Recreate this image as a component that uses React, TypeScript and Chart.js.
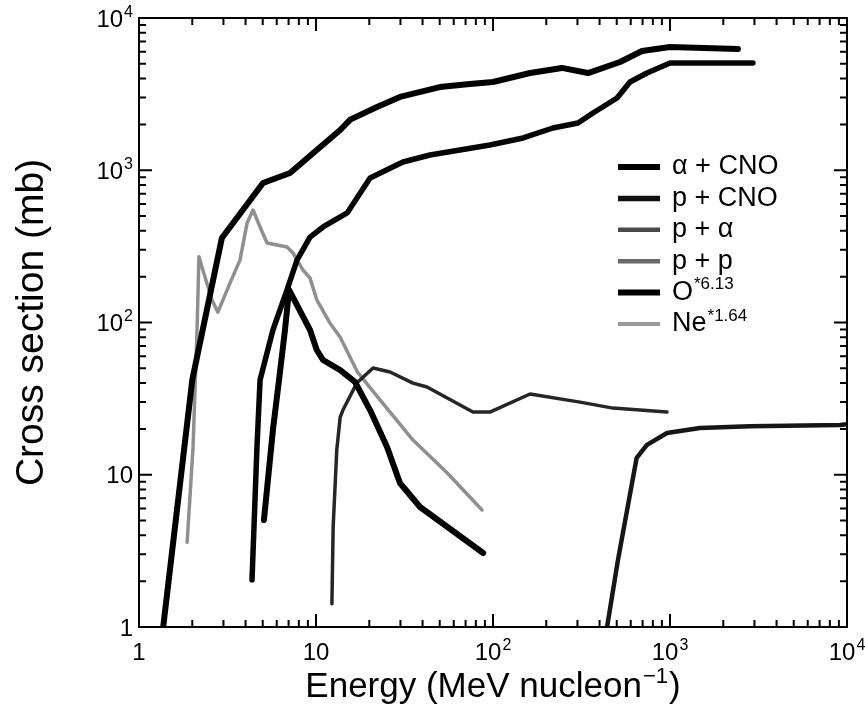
import { useEffect, useRef } from 'react';
import { Chart, registerables } from 'chart.js';

Chart.register(...registerables);

const FONT = '"Liberation Sans", Arial, Helvetica, sans-serif';

// Axis tick values and labels (base + superscript exponent)
const xTickValues = [1, 10, 100, 1000, 10000];
const yTickValues = [1, 10, 100, 1000, 10000];
const tickBases = ['1', '10', '10', '10', '10'];
const tickExps = ['', '', '2', '3', '4'];
const minorMultipliers = [2, 3, 4, 5, 6, 7, 8, 9];

// Axis titles
const xTitleParts = ['Energy (MeV nucleon', '−1', ')'];
const yTitle = 'Cross section (mb)';

// Series labels
const seriesLabels = ['α + CNO', 'p + CNO', 'p + α', 'p + p', 'O*6.13', 'Ne*1.64'];

// α + CNO
const alphaCnoEnergy = [1.37, 2.0, 2.94, 5.02, 7.13, 10.1, 13.7, 15.6, 22.1, 29.8, 50, 74, 100, 162, 245, 344, 522, 695, 1000, 2420];
const alphaCnoSigma = [1, 42, 359, 825, 959, 1359, 1837, 2150, 2603, 3030, 3520, 3680, 3800, 4350, 4700, 4350, 5140, 6070, 6450, 6260];

// p + CNO
const pCnoEnergy = [4.35, 4.64, 4.83, 5.71, 6.86, 7.81, 9.25, 10.96, 15, 20.2, 31, 44, 96, 148, 218, 302, 367, 502, 594, 741, 1000, 2940];
const pCnoSigma = [2.04, 15.2, 41.9, 89.3, 164, 257, 364, 424, 524, 889, 1133, 1260, 1466, 1630, 1895, 2043, 2376, 2981, 3800, 4350, 5060, 5060];

// p + α
const pAlphaEnergy = [12.3, 12.5, 13.1, 13.7, 14.2, 17.0, 21.0, 26.2, 35.3, 42.4, 77, 96, 162, 310, 476, 962];
const pAlphaSigma = [1.42, 4.54, 14.5, 23.9, 26.6, 40, 50.3, 47.3, 40, 37.7, 25.8, 25.8, 33.9, 30.0, 27.4, 25.8];

// p + p
const ppEnergy = [441, 508, 648, 741, 962, 1476, 2830, 9120, 10000];
const ppSigma = [1, 2.75, 12.9, 15.7, 18.8, 20.3, 20.8, 21.2, 21.5];

// O * 6.13
const oxEnergy = [5.08, 5.71, 6.18, 6.68, 7.04, 7.81, 9.25, 10.1, 10.96, 13.7, 16.6, 20.2, 25.2, 29.8, 38.7, 88];
const oxSigma = [5.05, 19.7, 41.9, 89.3, 164, 130, 89.3, 66, 56.7, 48.7, 40.7, 26.6, 15.2, 8.83, 6.14, 3.06];

// Ne * 1.64
const neEnergy = [1.87, 2.02, 2.13, 2.18, 2.36, 2.58, 2.79, 3.27, 3.72, 4.08, 4.41, 4.83, 5.29, 6.02, 6.86, 7.42, 8.45, 9.25, 10.1, 12, 13.7, 17.2, 23, 35.3, 55, 86.7];
const neSigma = [3.6, 15.2, 93, 270, 199, 141, 117, 182, 257, 450, 548, 424, 333, 323, 313, 286, 221, 196, 141, 99, 80, 47, 31, 16.9, 10.3, 5.87];

const lineColors = ['#000000', '#050505', '#262626', '#161616', '#000000', '#8f8f8f'];
const legendColors = ['#000000', '#111111', '#4a4a4a', '#6a6a6a', '#000000', '#9a9a9a'];
const lineWidths = [6, 5.5, 3.5, 4.5, 6, 3.5];
const legendWidths = [6, 5.5, 4.5, 4.5, 6, 4];
const drawOrder = [0, 1, 2, 3, 0, 5];

const toPoints = (xs: number[], ys: number[]) => xs.map((x, i) => ({ x, y: ys[i] }));

const TICK_SIZE = 24;
const SUP_SIZE = 16;

function drawTickLabel(ctx: CanvasRenderingContext2D, base: string, exp: string, x: number, y: number, align: 'center' | 'right') {
  ctx.font = `${TICK_SIZE}px ${FONT}`;
  const w1 = ctx.measureText(base).width;
  ctx.font = `${SUP_SIZE}px ${FONT}`;
  const w2 = exp ? ctx.measureText(exp).width + 1 : 0;
  const total = w1 + w2;
  const start = align === 'center' ? x - total / 2 : x - total;
  ctx.textAlign = 'left';
  ctx.textBaseline = 'alphabetic';
  ctx.font = `${TICK_SIZE}px ${FONT}`;
  ctx.fillText(base, start, y);
  if (exp) {
    ctx.font = `${SUP_SIZE}px ${FONT}`;
    ctx.fillText(exp, start + w1 + 1, y - 10);
  }
}

const framePlugin = {
  id: 'frameTicks',
  afterDatasetsDraw(chart: any) {
    const { ctx, chartArea, scales } = chart;
    const { left, right, top, bottom } = chartArea;
    const xs = scales.x;
    const ys = scales.y;
    ctx.save();
    ctx.strokeStyle = '#000';
    ctx.lineWidth = 2;
    ctx.lineCap = 'butt';
    ctx.strokeRect(left, top, right - left, bottom - top);
    const majorLen = 13;
    const minorLen = 7;
    const values: { v: number; major: boolean }[] = [];
    for (const d of xTickValues) {
      values.push({ v: d, major: true });
      if (d < 10000) for (const m of minorMultipliers) values.push({ v: d * m, major: false });
    }
    ctx.beginPath();
    for (const { v, major } of values) {
      const len = major ? majorLen : minorLen;
      const px = xs.getPixelForValue(v);
      ctx.moveTo(px, bottom);
      ctx.lineTo(px, bottom - len);
      ctx.moveTo(px, top);
      ctx.lineTo(px, top + len);
      const py = ys.getPixelForValue(v);
      ctx.moveTo(left, py);
      ctx.lineTo(left + len, py);
      ctx.moveTo(right, py);
      ctx.lineTo(right - len, py);
    }
    ctx.stroke();

    // tick labels
    ctx.fillStyle = '#000';
    xTickValues.forEach((v, i) => {
      drawTickLabel(ctx, tickBases[i], tickExps[i], xs.getPixelForValue(v), bottom + 33, 'center');
    });
    yTickValues.forEach((v, i) => {
      drawTickLabel(ctx, tickBases[i], tickExps[i], left - 6, ys.getPixelForValue(v) + 8.5, 'right');
    });

    // x title with superscript, centred on the axis
    const big = 35;
    const small = 22;
    ctx.textAlign = 'left';
    ctx.textBaseline = 'alphabetic';
    ctx.font = `${big}px ${FONT}`;
    const wa = ctx.measureText(xTitleParts[0]).width;
    const wc = ctx.measureText(xTitleParts[2]).width;
    ctx.font = `${small}px ${FONT}`;
    const wb = ctx.measureText(xTitleParts[1]).width;
    const totalW = wa + wb + wc + 2;
    let sx = (left + right) / 2 - totalW / 2;
    const by = 697;
    ctx.font = `${big}px ${FONT}`;
    ctx.fillText(xTitleParts[0], sx, by);
    sx += wa + 1;
    ctx.font = `${small}px ${FONT}`;
    ctx.fillText(xTitleParts[1], sx, by - 14);
    sx += wb + 1;
    ctx.font = `${big}px ${FONT}`;
    ctx.fillText(xTitleParts[2], sx, by);

    // y title, centred on the axis
    ctx.save();
    ctx.translate(43, (top + bottom) / 2);
    ctx.rotate(-Math.PI / 2);
    ctx.font = `39px ${FONT}`;
    ctx.textAlign = 'center';
    ctx.textBaseline = 'alphabetic';
    ctx.fillText(yTitle, 0, 0);
    ctx.restore();

    ctx.restore();
  },
};

const legendPlugin = {
  id: 'customLegend',
  afterDraw(chart: any) {
    const { ctx } = chart;
    const x0 = 618;
    const x1 = 660;
    const tx = 672;
    const y0 = 167;
    const dy = 31.4;
    ctx.save();
    seriesLabels.forEach((label, i) => {
      const y = y0 + i * dy;
      ctx.strokeStyle = legendColors[i];
      ctx.lineWidth = legendWidths[i];
      ctx.beginPath();
      ctx.moveTo(x0, y);
      ctx.lineTo(x1, y);
      ctx.stroke();
      ctx.fillStyle = '#000';
      ctx.textBaseline = 'middle';
      ctx.textAlign = 'left';
      const star = label.indexOf('*');
      if (star >= 0) {
        const base = label.slice(0, star);
        const sup = label.slice(star);
        ctx.font = `27px ${FONT}`;
        ctx.fillText(base, tx, y);
        const w = ctx.measureText(base).width;
        ctx.font = `17px ${FONT}`;
        ctx.fillText(sup, tx + w + 1, y - 8);
      } else {
        ctx.font = `27px ${FONT}`;
        ctx.fillText(label, tx, y);
      }
    });
    ctx.restore();
  },
};

export default function App() {
  const canvasRef = useRef<HTMLCanvasElement | null>(null);

  useEffect(() => {
    const canvas = canvasRef.current;
    if (!canvas) return;
    const seriesData = [
      toPoints(alphaCnoEnergy, alphaCnoSigma),
      toPoints(pCnoEnergy, pCnoSigma),
      toPoints(pAlphaEnergy, pAlphaSigma),
      toPoints(ppEnergy, ppSigma),
      toPoints(oxEnergy, oxSigma),
      toPoints(neEnergy, neSigma),
    ];
    const datasets = seriesData.map((data, i) => ({
      label: seriesLabels[i],
      data,
      order: drawOrder[i],
      borderColor: lineColors[i],
      backgroundColor: lineColors[i],
      borderWidth: lineWidths[i],
      pointRadius: 0,
      tension: 0,
      fill: false,
      borderCapStyle: 'round' as const,
      borderJoinStyle: 'round' as const,
    }));
    const chart = new Chart(canvas, {
      type: 'line',
      data: { datasets: datasets as any },
      options: {
        animation: false,
        responsive: false,
        devicePixelRatio: 1,
        layout: { padding: { top: 18, right: 18, left: 0, bottom: 0 } },
        plugins: { legend: { display: false }, tooltip: { enabled: false } },
        scales: {
          x: {
            type: 'logarithmic',
            min: 1,
            max: 10000,
            position: 'bottom',
            afterBuildTicks: (s: any) => {
              s.ticks = xTickValues.map((v) => ({ value: v, major: true }));
            },
            afterFit: (s: any) => {
              s.height = 80;
            },
            grid: { display: false, drawTicks: false },
            border: { display: false },
            ticks: { display: false },
            title: { display: false },
          },
          y: {
            type: 'logarithmic',
            min: 1,
            max: 10000,
            position: 'left',
            afterBuildTicks: (s: any) => {
              s.ticks = yTickValues.map((v) => ({ value: v, major: true }));
            },
            afterFit: (s: any) => {
              s.width = 139;
            },
            grid: { display: false, drawTicks: false },
            border: { display: false },
            ticks: { display: false },
            title: { display: false },
          },
        },
      },
      plugins: [framePlugin, legendPlugin],
    });
    return () => chart.destroy();
  }, []);

  return (
    <div style={{ position: 'fixed', left: 0, top: 0, width: 865, height: 707, background: '#fff' }}>
      <canvas ref={canvasRef} width={865} height={707} style={{ display: 'block' }} />
    </div>
  );
}
